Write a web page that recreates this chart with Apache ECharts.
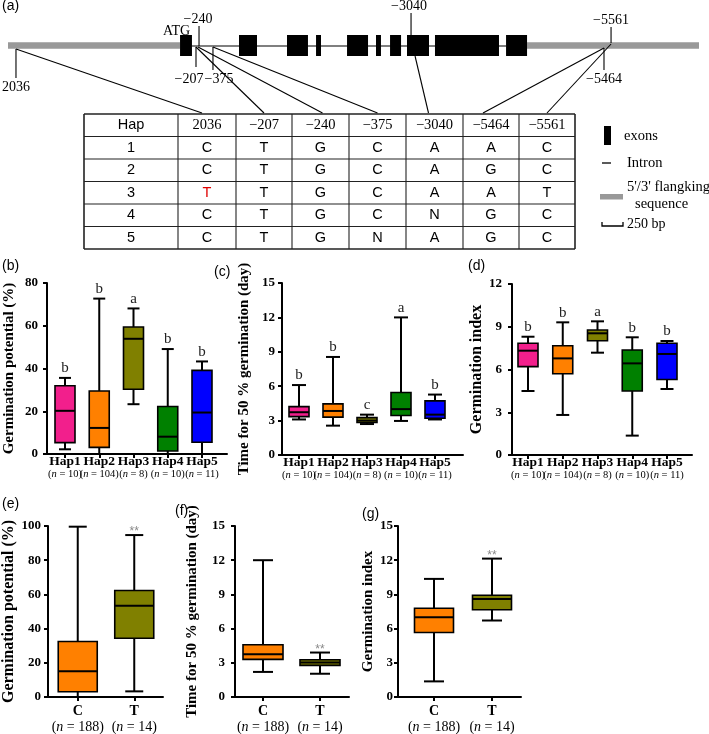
<!DOCTYPE html>
<html><head><meta charset="utf-8">
<script src="https://cdn.jsdelivr.net/npm/echarts@6/dist/echarts.min.js"></script>
<style>html,body{margin:0;padding:0;background:#fff}#c{width:709px;height:734px}</style>
</head><body><div id="c"></div>
<script>
// ================= DATA =================
// (a) gene structure, in bp from the 5' end of the drawn region
var geneLengthBp = 8226;
var exonsBp = [[2048,2190],[2750,2964],[3321,3571],[3667,3726],[4036,4286],[4381,4440],[4548,4679],[4750,5012],[5083,5845],[5929,6179]];
var snpLabels = ['2036','\u2212207','\u2212240','\u2212375','\u22123040','\u22125464','\u22125561'];
var snpBp = [95, 2238, 2274, 2440, 4798, 7095, 7179];
var scaleBarBp = 250;
// haplotype table
var tableHeader = ['Hap','2036','\u2212207','\u2212240','\u2212375','\u22123040','\u22125464','\u22125561'];
var hapIds = ['1','2','3','4','5'];
var hapAlleles = [
  ['C','T','G','C','A','A','C'],
  ['C','T','G','C','A','G','C'],
  ['T','T','G','C','A','A','T'],
  ['C','T','G','C','N','G','C'],
  ['C','T','G','N','A','G','C']
];
var highlightCells = [[2,0]];
// box plots: [min, Q1, median, Q3, max]
var hapCats = ['Hap1','Hap2','Hap3','Hap4','Hap5'];
var hapN = [10,104,8,10,11];
var gpHap  = [[2.2,5.3,20.2,31.9,35.6],[0,3.1,12.2,29.5,72.7],[23.3,30.3,53.9,59.4,68.1],[0,1.4,8.1,22.2,49.1],[0,5.5,19.4,39.1,43.3]];
var t50Hap = [[3.1,3.35,3.73,4.22,6.1],[2.56,3.3,3.84,4.46,8.55],[2.7,2.83,3.0,3.26,3.52],[2.97,3.44,4.0,5.45,12.0],[3.1,3.2,3.52,4.72,5.27]];
var giHap  = [[4.49,6.2,7.32,7.84,8.3],[2.81,5.7,6.78,7.67,9.31],[7.18,8.02,8.54,8.77,9.38],[1.36,4.49,6.43,7.37,8.26],[4.63,5.3,7.09,7.84,8.0]];
var gpLetters  = ['b','b','a','b','b'];
var t50Letters = ['b','b','c','a','b'];
var giLetters  = ['b','b','a','b','b'];
var ctCats = ['C','T'];
var ctN = [188,14];
var gpCT  = [[0,3.1,15.0,32.5,99.6],[3.3,34.4,53.3,62.3,94.7]];
var t50CT = [[2.2,3.3,3.76,4.58,12.0],[2.04,2.77,3.03,3.27,3.9]];
var giCT  = [[1.37,5.66,7.0,7.79,10.36],[6.71,7.65,8.6,8.93,12.14]];
var ctMarks = ['','**'];

// ================= STYLE / LAYOUT =================
var SERIF = '"Liberation Serif","Times New Roman",serif';
var SANS = '"Liberation Sans",Arial,sans-serif';
var hapColors = ['#F21F8C','#FF8000','#808000','#008000','#0000FF'];
var ctColors = ['#FF8000','#808000'];
var richHap = {
  h:{fontFamily:SERIF, fontWeight:'bold', fontSize:13.5, fill:'#000', lineHeight:12},
  p:{fontFamily:SERIF, fontSize:10.5, fill:'#000', lineHeight:13},
  i:{fontFamily:SERIF, fontStyle:'italic', fontSize:10.5, fill:'#000', lineHeight:13}
};
var richCT = {
  h:{fontFamily:SERIF, fontWeight:'bold', fontSize:14, fill:'#000', lineHeight:15},
  p:{fontFamily:SERIF, fontSize:14, fill:'#000', lineHeight:17},
  i:{fontFamily:SERIF, fontStyle:'italic', fontSize:14, fill:'#000', lineHeight:17}
};

var chart = echarts.init(document.getElementById('c'), null, {renderer:'canvas'});

// gene layout
var geneGrid = {left:8, top:35, width:691, height:21};
var snpTick = [[49,78],[47,67],[26,46],[47,70],[13,35],[48,70],[27,43]];
var snpLabelY = [87,79,19,79,6,79,20];
var snpLabelDx = [0,-7,-1,6,-2,0,0];
var snpDiagStart = [[0,49],[0,47],[-1,47],[0,47],[4,56],[0,48],[0,44]];
var snpDiagEndDx = [-5,0,2,0,-6,-8,0];

// table layout
var tableCols = [84,178,236,292,349,406,463,519,575];
var tableTop = 114, rowH = 22.5;
function colCenter(k){ return (tableCols[k]+tableCols[k+1])/2; }

// box panels layout
var panels = [
  {left:47, right:227, first:65, step:34.25, top:283, bottom:454},
  {left:282, right:463, first:299, step:34, top:283, bottom:455},
  {left:512, right:692, first:528, step:34.75, top:284, bottom:455},
  {left:47, right:163, first:77, step:57, top:526, bottom:697},
  {left:235, right:349, first:263, step:57, top:526, bottom:697},
  {left:398, right:521, first:434, step:58, top:526, bottom:697}
];
var yCfg = [
  {max:80, interval:20, name:'Germination potential (%)', gap:30, margin:9, nameSize:15},
  {max:15, interval:3, name:'Time for 50 % germination (day)', gap:30, margin:7, nameSize:15},
  {max:12, interval:3, name:'Germination index', gap:27, margin:10, nameSize:16},
  {max:100, interval:20, name:'Germination potential (%)', gap:31, margin:7, nameSize:16},
  {max:15, interval:3, name:'Time for 50 % germination (day)', gap:35, margin:10, nameSize:15},
  {max:15, interval:3, name:'Germination index', gap:16, margin:5, nameSize:15}
];

var grids = [{left:geneGrid.left, top:geneGrid.top, width:geneGrid.width, height:geneGrid.height}];
var xAxes = [{type:'value', gridIndex:0, min:0, max:geneLengthBp, show:false}];
var yAxes = [{type:'value', gridIndex:0, min:0, max:1, show:false}];

panels.forEach(function(p, k){
  var gi = k+1;
  var n = k < 3 ? hapCats.length : ctCats.length;
  var vals = []; for (var i = 1; i <= n; i++) vals.push(i);
  grids.push({left:p.left, top:p.top, width:p.right-p.left, height:p.bottom-p.top});
  xAxes.push({
    type:'value', gridIndex:gi,
    min: 1 + (p.left-p.first)/p.step, max: 1 + (p.right-p.first)/p.step,
    splitLine:{show:false},
    axisLine:{show:true, onZero:false, lineStyle:{color:'#000', width:2}},
    axisTick:{show:true, customValues:vals, length:4, lineStyle:{color:'#000', width:2}},
    axisLabel:{show:false}
  });
  var yc = yCfg[k];
  yAxes.push({
    type:'value', gridIndex:gi, min:0, max:yc.max, interval:yc.interval,
    splitLine:{show:false},
    axisLine:{show:true, lineStyle:{color:'#000', width:2}},
    axisTick:{show:true, length:4, lineStyle:{color:'#000', width:2}},
    axisLabel:{fontFamily:SERIF, fontWeight:'bold', fontSize:13, color:'#000', margin:yc.margin},
    name:yc.name, nameLocation:'middle', nameRotate:90, nameGap:yc.gap,
    nameTextStyle:{fontFamily:SERIF, fontWeight:'bold', fontSize:yc.nameSize, color:'#000'}
  });
});

function boxSeries(gi, data, fills, marks, cats, ns, boxW, capW, markKind, rich, labelGap){
  return {
    type:'custom', xAxisIndex:gi, yAxisIndex:gi,
    data: data.map(function(b, i){ return [i+1].concat(b); }),
    renderItem:function(params, api){
      var i = params.dataIndex;
      var x = api.value(0);
      var ys = [1,2,3,4,5].map(function(k){ return api.coord([x, api.value(k)])[1]; });
      var base = api.coord([x, 0]);
      var cx = base[0];
      var yMin=ys[0], yQ1=ys[1], yMed=ys[2], yQ3=ys[3], yMax=ys[4];
      var ls = {stroke:'#000', lineWidth:2};
      var ch = [
        {type:'line', shape:{x1:cx,y1:yQ3,x2:cx,y2:yMax}, style:ls},
        {type:'line', shape:{x1:cx-capW/2,y1:yMax,x2:cx+capW/2,y2:yMax}, style:ls},
        {type:'line', shape:{x1:cx,y1:yQ1,x2:cx,y2:yMin}, style:ls},
        {type:'line', shape:{x1:cx-capW/2,y1:yMin,x2:cx+capW/2,y2:yMin}, style:ls},
        {type:'rect', shape:{x:cx-boxW/2,y:yQ3,width:boxW,height:yQ1-yQ3}, style:{fill:fills[i], stroke:'#000', lineWidth:1.6}},
        {type:'line', shape:{x1:cx-boxW/2,y1:yMed,x2:cx+boxW/2,y2:yMed}, style:ls},
        {type:'text', style:{x:cx, y:base[1]+labelGap, text:'{h|'+cats[i]+'}\n{p|(}{i|n}{p| = '+ns[i]+')}', rich:rich, align:'center', verticalAlign:'top'}}
      ];
      if (marks[i]) {
        if (markKind === 'letter') {
          ch.push({type:'text', style:{x:cx, y:yMax-2, text:marks[i], fill:'#222', fontFamily:SERIF, fontSize:15, align:'center', verticalAlign:'bottom'}});
        } else {
          ch.push({type:'text', style:{x:cx, y:yMax-3, text:marks[i], fill:'#888', fontFamily:SANS, fontSize:12, align:'center', verticalAlign:'middle'}});
        }
      }
      return {type:'group', children:ch};
    }
  };
}

var series = [];
// flanking sequence
series.push({
  type:'custom', xAxisIndex:0, yAxisIndex:0,
  data:[[0, exonsBp[0][0]], [exonsBp[exonsBp.length-1][1], geneLengthBp]],
  renderItem:function(params, api){
    var a = api.coord([api.value(0), 0.5]), b = api.coord([api.value(1), 0.5]);
    return {type:'rect', shape:{x:a[0], y:a[1]-3.3, width:b[0]-a[0], height:6.6}, style:{fill:'#999'}};
  }
});
// intron line
series.push({
  type:'custom', xAxisIndex:0, yAxisIndex:0,
  data:[[exonsBp[0][1], exonsBp[exonsBp.length-1][0]]],
  renderItem:function(params, api){
    var a = api.coord([api.value(0), 0.5]), b = api.coord([api.value(1), 0.5]);
    return {type:'line', shape:{x1:a[0], y1:a[1]+0.5, x2:b[0], y2:b[1]+0.5}, style:{stroke:'#000', lineWidth:1.2}};
  }
});
// exons
series.push({
  type:'custom', xAxisIndex:0, yAxisIndex:0,
  data:exonsBp,
  renderItem:function(params, api){
    var a = api.coord([api.value(0), 1]), b = api.coord([api.value(1), 0]);
    var ch = [{type:'rect', shape:{x:a[0], y:a[1], width:b[0]-a[0], height:b[1]-a[1]}, style:{fill:'#000'}}];
    if (params.dataIndex === 0) {
      ch.push({type:'text', style:{x:(a[0]+b[0])/2-9.5, y:31, text:'ATG', fill:'#000', fontFamily:SERIF, fontSize:14, align:'center', verticalAlign:'middle'}});
    }
    return {type:'group', children:ch};
  }
});
// SNP markers and connectors to the table
series.push({
  type:'custom', xAxisIndex:0, yAxisIndex:0,
  data:snpBp.map(function(v, i){ return [v, i]; }),
  renderItem:function(params, api){
    var i = params.dataIndex;
    var mx = api.coord([api.value(0), 0.5])[0];
    var ls = {stroke:'#000', lineWidth:1.1};
    var ch = [
      {type:'line', shape:{x1:mx, y1:snpTick[i][0], x2:mx, y2:snpTick[i][1]}, style:ls},
      {type:'text', style:{x:mx+snpLabelDx[i], y:snpLabelY[i], text:snpLabels[i], fill:'#000', fontFamily:SERIF, fontSize:14, align:'center', verticalAlign:'middle'}},
      {type:'line', shape:{x1:mx+snpDiagStart[i][0], y1:snpDiagStart[i][1], x2:colCenter(i+1)+snpDiagEndDx[i], y2:tableTop-1}, style:ls}
    ];
    return {type:'group', children:ch};
  }
});
// scale bar (legend)
series.push({
  type:'custom', xAxisIndex:0, yAxisIndex:0,
  data:[[0, scaleBarBp]],
  renderItem:function(params, api){
    var w = api.size([api.value(1)-api.value(0), 0])[0];
    var x0 = 602, y0 = 226;
    return {type:'group', children:[
      {type:'polyline', shape:{points:[[x0,y0-4],[x0,y0],[x0+w,y0],[x0+w,y0-4]]}, style:{stroke:'#000', lineWidth:1.3, fill:null}},
      {type:'text', style:{x:x0+w+4, y:y0-2, text:scaleBarBp+' bp', fill:'#000', fontFamily:SERIF, fontSize:14, align:'left', verticalAlign:'middle'}}
    ]};
  }
});

series.push(boxSeries(1, gpHap, hapColors, gpLetters, hapCats, hapN, 20, 12, 'letter', richHap, 2));
series.push(boxSeries(2, t50Hap, hapColors, t50Letters, hapCats, hapN, 20, 14, 'letter', richHap, 2));
series.push(boxSeries(3, giHap, hapColors, giLetters, hapCats, hapN, 20, 13, 'letter', richHap, 2));
series.push(boxSeries(4, gpCT, ctColors, ctMarks, ctCats, ctN, 39, 18, 'star', richCT, 7));
series.push(boxSeries(5, t50CT, ctColors, ctMarks, ctCats, ctN, 40, 20, 'star', richCT, 7));
series.push(boxSeries(6, giCT, ctColors, ctMarks, ctCats, ctN, 39, 20, 'star', richCT, 7));

// ---- table & legend & panel labels as graphics ----
var g = [];
var nRows = hapIds.length + 1;
var tableBottom = tableTop + nRows*rowH;
for (var r = 0; r <= nRows; r++) {
  g.push({type:'line', shape:{x1:tableCols[0], y1:tableTop+r*rowH, x2:tableCols[tableCols.length-1], y2:tableTop+r*rowH}, style:{stroke:'#222', lineWidth:(r===0||r===nRows)?1.6:1.1}});
}
tableCols.forEach(function(x, k){
  g.push({type:'line', shape:{x1:x, y1:tableTop, x2:x, y2:tableBottom}, style:{stroke:'#222', lineWidth:(k===0||k===tableCols.length-1)?1.6:1.1}});
});
tableHeader.forEach(function(t, k){
  g.push({type:'text', style:{x:colCenter(k), y:tableTop+rowH/2, text:t, fill:'#000', fontFamily:(k===0?SANS:SERIF), fontSize:14.5, align:'center', verticalAlign:'middle'}});
});
hapIds.forEach(function(id, r){
  var cy = tableTop + (r+1.5)*rowH;
  g.push({type:'text', style:{x:colCenter(0), y:cy, text:id, fill:'#000', fontFamily:SANS, fontSize:14.5, align:'center', verticalAlign:'middle'}});
  hapAlleles[r].forEach(function(a, c){
    var red = highlightCells.some(function(h){ return h[0]===r && h[1]===c; });
    g.push({type:'text', style:{x:colCenter(c+1), y:cy, text:a, fill:red?'#E00000':'#000', fontFamily:SANS, fontSize:14.5, align:'center', verticalAlign:'middle'}});
  });
});
// legend
g.push({type:'rect', shape:{x:604, y:126, width:7, height:19}, style:{fill:'#000'}});
g.push({type:'text', style:{x:624, y:136, text:'exons', fill:'#000', fontFamily:SERIF, fontSize:14.5, verticalAlign:'middle'}});
g.push({type:'line', shape:{x1:602, y1:163, x2:611, y2:163}, style:{stroke:'#000', lineWidth:1.3}});
g.push({type:'text', style:{x:627, y:163, text:'Intron', fill:'#000', fontFamily:SERIF, fontSize:14.5, verticalAlign:'middle'}});
g.push({type:'rect', shape:{x:600, y:194, width:23, height:5.5}, style:{fill:'#999'}});
g.push({type:'text', style:{x:627, y:187, text:"5'/3' flangking", fill:'#000', fontFamily:SERIF, fontSize:14.5, verticalAlign:'middle'}});
g.push({type:'text', style:{x:635, y:204, text:'sequence', fill:'#000', fontFamily:SERIF, fontSize:14.5, verticalAlign:'middle'}});
// panel labels
[['(a)',2,6],['(b)',2,266],['(c)',214,272],['(d)',468,266],['(e)',2,504],['(f)',175,511],['(g)',362,514]].forEach(function(p){
  g.push({type:'text', style:{x:p[1], y:p[2], text:p[0], fill:'#000', fontFamily:SANS, fontSize:14, verticalAlign:'middle'}});
});

chart.setOption({
  animation:false,
  backgroundColor:'#fff',
  grid:grids, xAxis:xAxes, yAxis:yAxes, series:series,
  graphic:{elements:g}
});
</script></body></html>
